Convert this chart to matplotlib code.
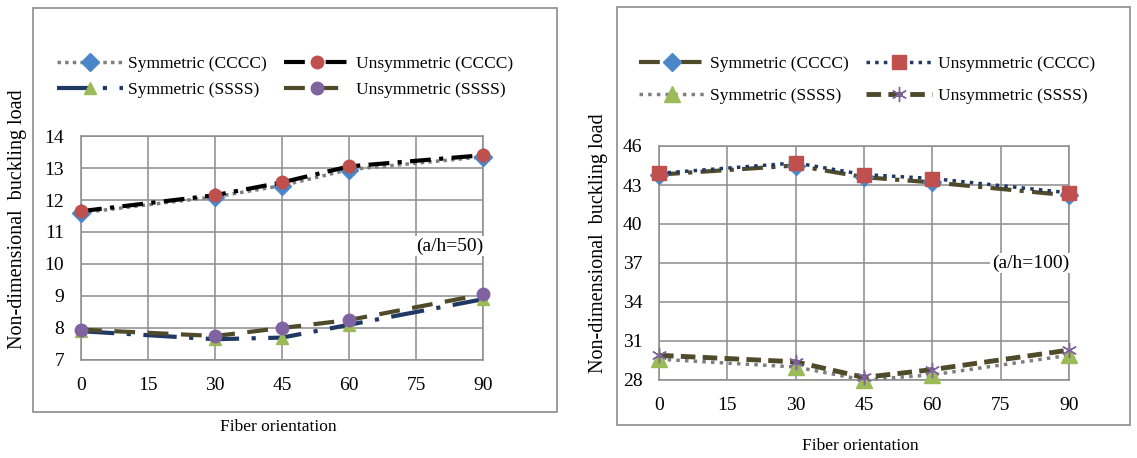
import matplotlib
matplotlib.use("Agg")
import matplotlib.pyplot as plt
from matplotlib.patches import Rectangle

plt.rcParams['font.family'] = ['Liberation Serif', 'DejaVu Serif']

angles = [0, 30, 45, 60, 90]
xticks = [0, 15, 30, 45, 60, 75, 90]

# a/h = 50
sym_cccc_50 = [11.60, 12.10, 12.45, 12.95, 13.35]
unsym_cccc_50 = [11.65, 12.15, 12.55, 13.05, 13.40]
sym_ssss_50 = [7.90, 7.65, 7.70, 8.10, 8.90]
unsym_ssss_50 = [7.95, 7.75, 8.00, 8.25, 9.05]
yticks_50 = [7, 8, 9, 10, 11, 12, 13, 14]

# a/h = 100
sym_cccc_100 = [43.8, 44.5, 43.6, 43.2, 42.2]
unsym_cccc_100 = [43.9, 44.7, 43.8, 43.5, 42.4]
sym_ssss_100 = [29.6, 29.0, 28.0, 28.4, 29.9]
unsym_ssss_100 = [29.9, 29.4, 28.2, 28.8, 30.3]
yticks_100 = [28, 31, 34, 37, 40, 43, 46]

labels = ["Symmetric (CCCC)", "Unsymmetric (CCCC)", "Symmetric (SSSS)", "Unsymmetric (SSSS)"]

W, H = 1137, 458
fig = plt.figure(figsize=(W / 100, H / 100), dpi=100)

def fx(p):
    return p / W

def fy(p):
    return 1 - p / H

# outer frames
for (x0, y0, x1, y1) in [(33, 8, 557, 412), (617, 7, 1130, 425)]:
    fig.patches.append(Rectangle((fx(x0), fy(y1)), fx(x1 - x0), (y1 - y0) / H,
                                 transform=fig.transFigure, fill=False,
                                 edgecolor='#8c8c8c', lw=1.2))

GRID = '#8c8c8c'

def style_axes(ax, yt, ylo, yhi):
    ax.set_xlim(0, 90)
    ax.set_ylim(ylo, yhi)
    ax.set_xticks(xticks)
    ax.set_yticks(yt)
    ax.grid(True, color=GRID, lw=1.1)
    ax.set_axisbelow(True)
    for s in ax.spines.values():
        s.set_color(GRID)
        s.set_linewidth(1.1)
    ax.tick_params(length=0, labelsize=14, pad=12)
    ax.set_xlabel("Fiber orientation", fontsize=12.5)
    ax.set_ylabel("Non-dimensional  buckling load", fontsize=14.5)

# Left panel
ax1 = fig.add_axes([fx(81), fy(360), fx(483 - 81), (360 - 136) / H])
style_axes(ax1, yticks_50, 7, 14)
h1 = ax1.plot(angles, sym_cccc_50, color='#7f7f7f', lw=2.5, ls=(0, (1, 1.2)),
              marker='D', ms=9, mfc='#4a86c8', mec='#4a86c8', clip_on=False, zorder=3)[0]
h2 = ax1.plot(angles, unsym_cccc_50, color='#000000', lw=3, ls=(0, (5, 2, 1, 2)),
              marker='o', ms=9, mfc='#c0504d', mec='#c0504d', clip_on=False, zorder=4)[0]
h3 = ax1.plot(angles, sym_ssss_50, color='#1f3864', lw=3, ls=(0, (8, 3, 1, 3)),
              marker='^', ms=9, mfc='#9bbb59', mec='#9bbb59', clip_on=False, zorder=3)[0]
h4 = ax1.plot(angles, unsym_ssss_50, color='#4f4a2a', lw=3, ls=(0, (5, 3)),
              marker='o', ms=9, mfc='#8064a2', mec='#8064a2', clip_on=False, zorder=4)[0]
ax1.xaxis.set_label_coords(0.49, -0.265)
ax1.yaxis.set_label_coords(-0.135, 0.63)
ax1.text(90, 10.55, "(a/h=50)", ha='right', va='center', fontsize=14,
         bbox=dict(facecolor='white', edgecolor='none', pad=1))
fig.legend([h1, h3, h2, h4], [labels[0], labels[2], labels[1], labels[3]],
           ncol=2, frameon=False, fontsize=12.5,
           loc='center', bbox_to_anchor=(fx(285), fy(77)), handlelength=3.8,
           columnspacing=1.0, labelspacing=0.6, handletextpad=0.3, numpoints=1)

# Right panel
ax2 = fig.add_axes([fx(659), fy(380), fx(1069 - 659), (380 - 146) / H])
style_axes(ax2, yticks_100, 28, 46)
g1 = ax2.plot(angles, sym_cccc_100, color='#4f4a2a', lw=3, ls=(0, (5, 2, 1, 2)),
              marker='D', ms=9, mfc='#4a86c8', mec='#4a86c8', clip_on=False, zorder=3)[0]
g2 = ax2.plot(angles, unsym_cccc_100, color='#1f3864', lw=2.5, ls=(0, (1, 1.5)),
              marker='s', ms=10, mfc='#c0504d', mec='#c0504d', clip_on=False, zorder=4)[0]
g3 = ax2.plot(angles, sym_ssss_100, color='#7f7f7f', lw=2.5, ls=(0, (1, 1.5)),
              marker='^', ms=11, mfc='#9bbb59', mec='#9bbb59', clip_on=False, zorder=3)[0]
g4 = ax2.plot(angles, unsym_ssss_100, color='#4f4a2a', lw=3.5, ls=(0, (3, 1.5)),
              marker=(6, 2, 0), ms=11, mec='#8064a2', mew=1, clip_on=False, zorder=4)[0]
ax2.xaxis.set_label_coords(0.49, -0.25)
ax2.yaxis.set_label_coords(-0.125, 0.585)
ax2.text(90, 37, "(a/h=100)", ha='right', va='center', fontsize=14,
         bbox=dict(facecolor='white', edgecolor='none', pad=1))
fig.legend([g1, g3, g2, g4], [labels[0], labels[2], labels[1], labels[3]],
           ncol=2, frameon=False, fontsize=12.5,
           loc='center', bbox_to_anchor=(fx(867), fy(80)), handlelength=3.8,
           columnspacing=1.0, labelspacing=0.95, handletextpad=0.3, numpoints=1)

fig.savefig("out.png", dpi=100)
